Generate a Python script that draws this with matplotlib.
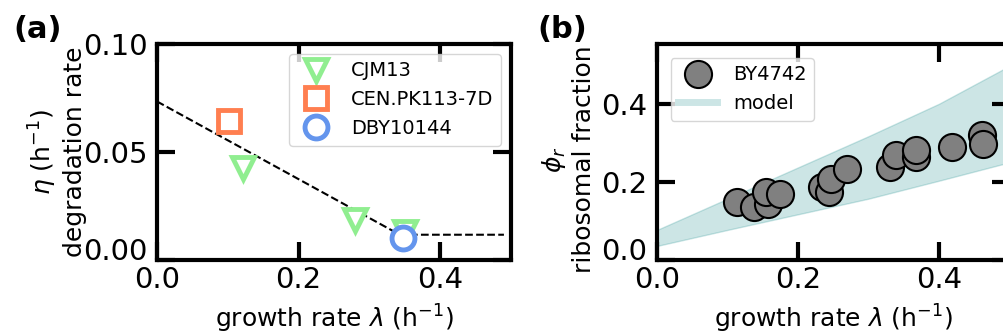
import matplotlib
matplotlib.use("Agg")
import matplotlib.pyplot as plt
from matplotlib.lines import Line2D

# ---- panel (a): protein degradation rate vs growth rate ----
cjm13_lambda = [0.121, 0.280, 0.350]
cjm13_eta = [0.0426, 0.0186, 0.0131]
cenpk_lambda = [0.101]
cenpk_eta = [0.0643]
dby_lambda = [0.347]
dby_eta = [0.0104]
fit_lambda = [0.0, 0.343, 0.49]
fit_eta = [0.0734, 0.0117, 0.0117]

# ---- panel (b): ribosomal fraction vs growth rate ----
by4742_lambda = [0.113, 0.138, 0.158, 0.155, 0.174, 0.234, 0.244, 0.247,
                 0.269, 0.331, 0.339, 0.368, 0.368, 0.419, 0.461, 0.463]
by4742_phi = [0.149, 0.136, 0.143, 0.174, 0.168, 0.187, 0.174, 0.207,
              0.234, 0.238, 0.268, 0.264, 0.281, 0.289, 0.319, 0.298]
model_lambda = [0.0, 0.1, 0.2, 0.3, 0.4, 0.5]
model_upper = [0.077, 0.157, 0.237, 0.317, 0.400, 0.497]
model_lower = [0.036, 0.077, 0.117, 0.157, 0.203, 0.250]

xticks = [0.0, 0.2, 0.4]
yticks_a = [0.0, 0.05, 0.10]
yticks_b = [0.0, 0.2, 0.4]

W, H = 1004, 336
fig = plt.figure(figsize=(W / 100, H / 100), dpi=100)

def frac_box(left, top, right, bottom):
    return [left / W, 1 - bottom / H, (right - left) / W, (bottom - top) / H]

ax_a = fig.add_axes(frac_box(157, 44, 511, 260))
ax_b = fig.add_axes(frac_box(657, 44, 1009.5, 260))

def style_axes(ax):
    for s in ax.spines.values():
        s.set_linewidth(3)
    ax.tick_params(direction="in", length=13, width=3, top=True, right=True,
                   labelsize=21)
    ax.tick_params(axis="y", pad=7)
    ax.tick_params(axis="x", pad=4)

mk = dict(markersize=16.5, markeredgewidth=3.5, markerfacecolor="white",
          linestyle="none", zorder=3)

# (a)
ax_a.plot(fit_lambda, fit_eta, "k--", lw=1.5, zorder=2)
ax_a.plot(cjm13_lambda, cjm13_eta, marker="v", markeredgecolor="lightgreen",
          label="CJM13", **mk)
ax_a.plot(cenpk_lambda, cenpk_eta, marker="s", markeredgecolor="coral",
          label="CEN.PK113-7D", **mk)
ax_a.plot(dby_lambda, dby_eta, marker="o", markeredgecolor="cornflowerblue",
          label="DBY10144", **mk)
ax_a.set_xlim(0, 0.5)
ax_a.set_ylim(0, 0.1)
ax_a.set_xticks(xticks)
ax_a.set_yticks(yticks_a)
ax_a.set_xticklabels(["0.0", "0.2", "0.4"])
ax_a.set_yticklabels(["0.00", "0.05", "0.10"])
style_axes(ax_a)
ax_a.set_xlabel(r"growth rate $\lambda$ (h$^{-1}$)", fontsize=18, labelpad=6.5)
ax_a.set_ylabel("$\\eta$ (h$^{-1}$)\ndegradation rate", fontsize=18,
                labelpad=-3)
ax_a.legend(loc="upper right", fontsize=14)

# (b)
ax_b.fill_between(model_lambda, model_lower, model_upper, color="teal",
                  alpha=0.2, zorder=1)
ax_b.plot(by4742_lambda, by4742_phi, "o", color="grey", markersize=19.5,
          markeredgecolor="black", markeredgewidth=1.5, zorder=3)
ax_b.set_xlim(0, 0.5)
ax_b.set_ylim(0, 0.553)
ax_b.set_xticks(xticks)
ax_b.set_yticks(yticks_b)
ax_b.set_xticklabels(["0.0", "0.2", "0.4"])
ax_b.set_yticklabels(["0.0", "0.2", "0.4"])
style_axes(ax_b)
ax_b.set_xlabel(r"growth rate $\lambda$ (h$^{-1}$)", fontsize=18, labelpad=6.5)
ax_b.set_ylabel("$\\phi_r$\nribosomal fraction", fontsize=18)
ax_b.yaxis.label.set_y(0.465)
handles_b = [
    Line2D([], [], marker="o", color="grey", markersize=19.5,
           markeredgecolor="black", markeredgewidth=1.5, linestyle="none"),
    Line2D([], [], color="teal", alpha=0.2, lw=5),
]
ax_b.legend(handles_b, ["BY4742", "model"], loc="upper left", fontsize=14,
            borderaxespad=0.7)

# lowest y tick label sits on its baseline
for ax in (ax_a, ax_b):
    ax.get_yticklabels()[0].set_verticalalignment("baseline")

fig.text(13 / W, 1 - 30 / H, "(a)", fontsize=22, fontweight="bold",
         va="center", ha="left")
fig.text(537 / W, 1 - 30 / H, "(b)", fontsize=22, fontweight="bold",
         va="center", ha="left")

fig.savefig("out.png", dpi=100)
